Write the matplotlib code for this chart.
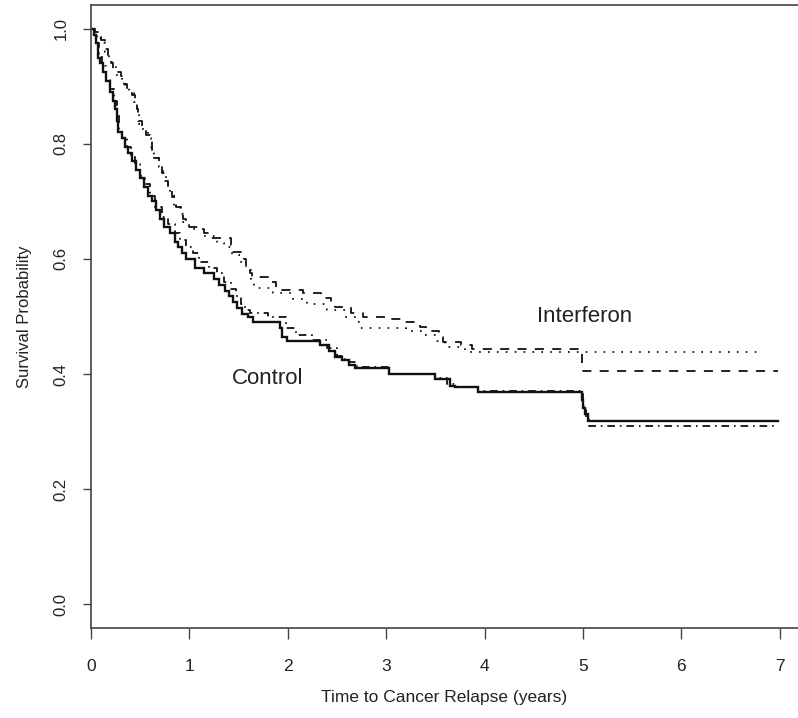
import matplotlib
matplotlib.use('Agg')
import matplotlib.pyplot as plt

plt.rcParams['font.family'] = ['Liberation Sans', 'DejaVu Sans']
plt.rcParams['lines.scale_dashes'] = False

# Kaplan-Meier style step curves (time in years, survival probability)
ctrl_t = [0, 0.03, 0.05, 0.07, 0.09, 0.12, 0.15, 0.19, 0.22, 0.24, 0.26, 0.27, 0.31, 0.35,
          0.38, 0.42, 0.46, 0.50, 0.54, 0.58, 0.62, 0.66, 0.70, 0.74, 0.80, 0.85, 0.88, 0.92,
          0.97, 1.06, 1.15, 1.25, 1.30, 1.36, 1.40, 1.44, 1.48, 1.53, 1.60, 1.65, 1.92, 1.94,
          1.99, 2.33, 2.42, 2.48, 2.55, 2.62, 2.68, 3.03, 3.50, 3.65, 3.70, 3.93, 4.99, 5.00,
          5.02, 5.05, 6.98]
ctrl_s = [1.0, 0.99, 0.975, 0.95, 0.94, 0.925, 0.91, 0.89, 0.875, 0.86, 0.84, 0.82, 0.81, 0.795,
          0.785, 0.77, 0.755, 0.74, 0.725, 0.71, 0.70, 0.685, 0.67, 0.655, 0.645, 0.63, 0.62, 0.61,
          0.60, 0.585, 0.575, 0.565, 0.555, 0.545, 0.535, 0.525, 0.515, 0.505, 0.50, 0.49, 0.48, 0.465,
          0.458, 0.45, 0.44, 0.43, 0.424, 0.416, 0.41, 0.40, 0.392, 0.38, 0.377, 0.369, 0.355, 0.341,
          0.33, 0.319, 0.319]

ctrl2_t = [0, 0.03, 0.06, 0.08, 0.11, 0.15, 0.19, 0.23, 0.26, 0.28, 0.32, 0.37, 0.41, 0.45,
           0.50, 0.55, 0.60, 0.65, 0.72, 0.78, 0.85, 0.90, 0.97, 1.04, 1.10, 1.20, 1.28, 1.35,
           1.42, 1.47, 1.52, 1.56, 1.62, 1.80, 1.98, 2.08, 2.25, 2.40, 2.50, 2.58, 2.70, 3.03,
           3.50, 3.62, 3.70, 3.93, 5.00, 5.03, 5.06, 6.98]
ctrl2_s = [1.0, 0.995, 0.975, 0.955, 0.935, 0.915, 0.895, 0.875, 0.85, 0.825, 0.81, 0.795, 0.78, 0.765,
           0.745, 0.73, 0.71, 0.69, 0.673, 0.66, 0.645, 0.633, 0.62, 0.61, 0.595, 0.585, 0.575, 0.56,
           0.548, 0.535, 0.522, 0.512, 0.506, 0.50, 0.48, 0.468, 0.46, 0.445, 0.432, 0.421, 0.412, 0.40,
           0.393, 0.382, 0.377, 0.37, 0.345, 0.325, 0.31, 0.31]

ifn_t = [0, 0.04, 0.07, 0.10, 0.14, 0.17, 0.20, 0.22, 0.25, 0.30, 0.34, 0.37, 0.42, 0.45,
         0.47, 0.48, 0.52, 0.56, 0.60, 0.62, 0.64, 0.69, 0.72, 0.75, 0.78, 0.82, 0.86, 0.91,
         0.94, 0.97, 1.00, 1.15, 1.22, 1.42, 1.44, 1.55, 1.58, 1.62, 1.64, 1.80, 1.88, 1.94,
         2.15, 2.34, 2.44, 2.48, 2.64, 2.76, 3.06, 3.16, 3.34, 3.40, 3.54, 3.58, 3.76, 3.87,
         4.99, 6.98]
ifn_s = [1.0, 0.995, 0.99, 0.98, 0.965, 0.95, 0.94, 0.93, 0.925, 0.918, 0.905, 0.895, 0.885, 0.875,
         0.86, 0.84, 0.83, 0.816, 0.808, 0.79, 0.775, 0.765, 0.75, 0.735, 0.72, 0.708, 0.69, 0.682,
         0.67, 0.662, 0.656, 0.645, 0.637, 0.625, 0.612, 0.60, 0.585, 0.575, 0.568, 0.56, 0.55, 0.546,
         0.54, 0.532, 0.525, 0.517, 0.506, 0.50, 0.495, 0.49, 0.482, 0.475, 0.465, 0.456, 0.45, 0.444,
         0.405, 0.405]

ifn2_t = [0, 0.04, 0.08, 0.11, 0.14, 0.18, 0.21, 0.25, 0.31, 0.35, 0.39, 0.44, 0.47, 0.49,
          0.53, 0.58, 0.61, 0.64, 0.69, 0.73, 0.76, 0.80, 0.84, 0.90, 0.94, 1.00, 1.15, 1.28,
          1.35, 1.43, 1.52, 1.58, 1.63, 1.66, 1.85, 2.05, 2.20, 2.40, 2.58, 2.68, 2.73, 3.20,
          3.35, 3.52, 3.60, 3.80, 6.82]
ifn2_s = [1.0, 0.995, 0.985, 0.975, 0.96, 0.945, 0.935, 0.92, 0.91, 0.90, 0.888, 0.873, 0.855, 0.835,
          0.822, 0.81, 0.795, 0.775, 0.76, 0.745, 0.73, 0.715, 0.69, 0.678, 0.665, 0.652, 0.64, 0.628,
          0.62, 0.607, 0.595, 0.58, 0.56, 0.55, 0.541, 0.53, 0.522, 0.511, 0.50, 0.49, 0.48, 0.475,
          0.468, 0.458, 0.447, 0.438, 0.438]

x_ticks = [0, 1, 2, 3, 4, 5, 6, 7]
y_ticks = [0.0, 0.2, 0.4, 0.6, 0.8, 1.0]

fig = plt.figure(figsize=(7.98, 7.18), dpi=100)
ax = fig.add_axes([91 / 798, 90 / 718, 1 - 91 / 798, 623 / 718])

ink = '#111111'
ax.step(ctrl_t, ctrl_s, where='post', color=ink, lw=1.7, solid_joinstyle='miter')
ax.step(ctrl2_t, ctrl2_s, where='post', color=ink, lw=1.3, dashes=(5.5, 3.5, 1.2, 3.5))
ax.step(ifn_t, ifn_s, where='post', color=ink, lw=1.3, dashes=(6.5, 6.0))
ax.step(ifn2_t, ifn2_s, where='post', color=ink, lw=1.3, dashes=(1.2, 5.2))

ax.text(5.02, 0.50, 'Interferon', fontsize=16, color='#222222', ha='center', va='center')
ax.text(1.80, 0.393, 'Control', fontsize=16, color='#222222', ha='center', va='center')

ax.set_xlim(0, 7.185)
ax.set_ylim(-0.0417, 1.0417)
ax.set_xticks(x_ticks)
ax.set_xticklabels([str(v) for v in x_ticks])
ax.set_yticks(y_ticks)
ax.set_yticklabels(['%.1f' % v for v in y_ticks], rotation=90, va='center')

for side in ['left', 'bottom', 'top']:
    ax.spines[side].set_color('#444444')
    ax.spines[side].set_linewidth(1.2)
ax.spines['right'].set_visible(False)
ax.tick_params(axis='x', direction='out', length=8, width=1, color='#444444',
               labelsize=12.5, pad=14, labelcolor='#222222')
ax.tick_params(axis='y', direction='out', length=6, width=1, color='#444444',
               labelsize=12, pad=10, labelcolor='#222222')

ax.set_xlabel('Time to Cancer Relapse (years)', fontsize=12.5, color='#222222', labelpad=12)
ax.set_ylabel('Survival Probability', fontsize=12, color='#222222', labelpad=16)

plt.savefig('out.png', dpi=100)
plt.close()
